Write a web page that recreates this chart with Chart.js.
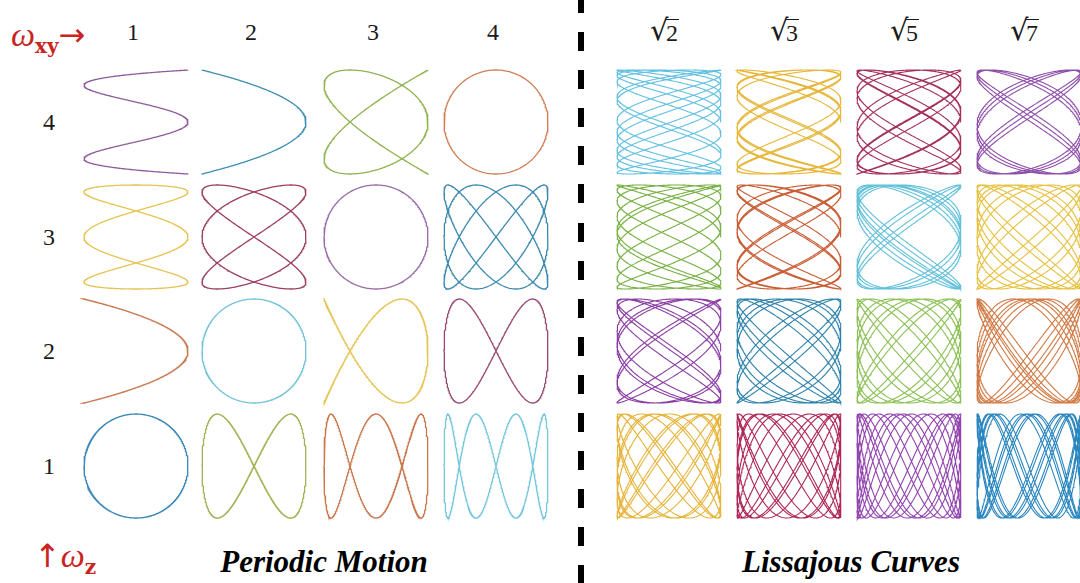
<!DOCTYPE html>
<html>
<head>
<meta charset="utf-8">
<script src="https://cdn.jsdelivr.net/npm/chart.js@4.4.0/dist/chart.umd.min.js"></script>
<style>
  html, body { margin: 0; padding: 0; background: #fff; }
  #fig { position: relative; width: 1080px; height: 583px; overflow: hidden;
         font-family: "Liberation Serif", "DejaVu Serif", serif; color: #1a1a1a; }
  #fig canvas { position: absolute; }
  .num { position: absolute; font-size: 24px; transform: translate(-50%, -50%); line-height: 1; }
  .sq { position: absolute; height: 28px; white-space: nowrap; }
  .sq .rs { position: absolute; left: 0; top: 0; font-size: 29px; line-height: 1; font-family: "DejaVu Serif", serif; }
  .sq .rad { position: absolute; left: 15px; top: 3px; font-size: 24px; line-height: 1;
             border-top: 1.4px solid #1a1a1a; padding: 1px 1px 0 1px; }
  .red { position: absolute; color: #c9241f; white-space: nowrap; line-height: 1; }
  .red i { font-size: 34px; }
  .red b { font-size: 20px; font-family: "DejaVu Serif", serif; position: relative; top: 7px; }
  .red .arr { font-family: "DejaVu Sans", sans-serif; font-size: 32px; }
  .title { position: absolute; font-size: 31px; font-weight: bold; font-style: italic;
           color: #000; transform: translateX(-50%); white-space: nowrap; line-height: 1; }
  #divider { position: absolute; left: 578px; top: -6px; width: 6px; height: 600px;
             background: repeating-linear-gradient(to bottom, #000 0 19px, transparent 19px 38.1px); }
</style>
</head>
<body>
<div id="fig">
  <div id="divider"></div>
</div>
<script>
// in-plane frequency per column, axial frequency per row (top row first)
const wxyPeriodic = [1, 2, 3, 4];
const wxyLissajous = [Math.SQRT2, Math.sqrt(3), Math.sqrt(5), Math.sqrt(7)];
const wxyLissajousLabels = ['2', '3', '5', '7'];
const wzRows = [4, 3, 2, 1];

const periodicColors = [
  ['#8f5a9e', '#3d8fb3', '#90b352', '#d17d55'],
  ['#e6c453', '#9c3f63', '#9a6aa9', '#3b8aad'],
  ['#c97a52', '#72c3d9', '#e6c453', '#9a4a6e'],
  ['#3c87b8', '#a2b356', '#c9784e', '#75c8dc']
];
const lissajousColors = [
  ['#62c0e0', '#e6b73a', '#a3315c', '#8e4fa9'],
  ['#77b043', '#c85c33', '#62c0d9', '#e6c13f'],
  ['#8a3ea3', '#2d82aa', '#8cc055', '#d07a45'],
  ['#e6b43a', '#ad2857', '#9245ae', '#2a86bf']
];
// axial periods traced in each irrational panel
const lissajousTurns = [
  [13, 12, 11, 9],
  [10, 10, 10, 10],
  [9, 9, 9, 9],
  [9, 8, 8, 8]
];

// layout (px)
const periodicCols = [136, 254, 376, 496];
const lissajousCols = [669, 789, 909, 1029];
const rowCenters = [121.5, 236.5, 351, 466];
const curveSize = 104;

const fig = document.getElementById('fig');

function drawCurve(cx, cy, color, wz, wxy, tEnd, samples, lineWidth) {
  const box = curveSize + 8;
  const lim = box / curveSize;
  const canvas = document.createElement('canvas');
  canvas.width = box;
  canvas.height = box;
  canvas.style.left = (cx - box / 2) + 'px';
  canvas.style.top = (cy - box / 2) + 'px';
  canvas.style.width = box + 'px';
  canvas.style.height = box + 'px';
  fig.appendChild(canvas);

  const pts = [];
  for (let i = 0; i <= samples; i++) {
    const t = tEnd * i / samples;
    pts.push({ x: Math.cos(wz * t), y: Math.sin(wxy * t) });
  }

  new Chart(canvas, {
    type: 'scatter',
    data: {
      datasets: [{
        data: pts,
        showLine: true,
        borderColor: color,
        borderWidth: lineWidth,
        pointRadius: 0,
        tension: 0
      }]
    },
    options: {
      responsive: false,
      animation: false,
      events: [],
      layout: { padding: 0 },
      plugins: { legend: { display: false }, tooltip: { enabled: false } },
      scales: {
        x: { display: false, min: -lim, max: lim },
        y: { display: false, min: -lim, max: lim }
      }
    }
  });
}

function addText(cls, html, x, y) {
  const d = document.createElement('div');
  d.className = cls;
  d.innerHTML = html;
  d.style.left = x + 'px';
  d.style.top = y + 'px';
  fig.appendChild(d);
  return d;
}

// periodic panels: integer ratios, one full period
wzRows.forEach((wz, r) => {
  wxyPeriodic.forEach((wxy, c) => {
    drawCurve(periodicCols[c], rowCenters[r], periodicColors[r][c],
              wz, wxy, 2 * Math.PI, 900, 1.3);
  });
});

// lissajous panels: irrational ratios, never closing
wzRows.forEach((wz, r) => {
  wxyLissajous.forEach((wxy, c) => {
    const turns = lissajousTurns[r][c];
    const tEnd = turns * 2 * Math.PI / wz;
    drawCurve(lissajousCols[c], rowCenters[r], lissajousColors[r][c],
              wz, wxy, tEnd, turns * 260, 1.1);
  });
});

// column headers
wxyPeriodic.forEach((w, c) => addText('num', String(w), periodicCols[c] - 3, 32));
wxyLissajousLabels.forEach((s, c) =>
  addText('sq', '<span class="rs">&#8730;</span><span class="rad">' + s + '</span>',
          lissajousCols[c] - 19, 16));

// row headers
wzRows.forEach((w, r) => addText('num', String(w), 49, rowCenters[r]));

// axis hints
addText('red', '<i>&#969;</i><b>xy</b><span class="arr">&#8594;</span>', 11, 18);
addText('red', '<span class="arr">&#8593;</span><i>&#969;</i><b>z</b>', 34, 539);

// panel titles
addText('title', 'Periodic Motion', 324, 546);
addText('title', 'Lissajous Curves', 851, 546);
</script>
</body>
</html>
